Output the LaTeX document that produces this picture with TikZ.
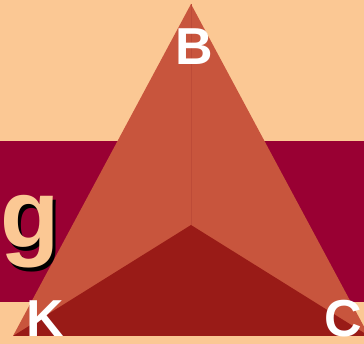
\documentclass[tikz,border=0pt]{standalone}
\usepackage{fontspec}
\setmainfont{Liberation Sans}
\definecolor{peach}{HTML}{FBC894}
\definecolor{crimson}{HTML}{990033}
\definecolor{face}{HTML}{C8553D}
\definecolor{darkface}{HTML}{991B17}
\definecolor{ridge}{HTML}{BD4B38}
\tikzset{
  lbl/.style={text=white,font=\fontsize{52}{52}\selectfont\bfseries,inner sep=0pt,anchor=base},
  bigg/.style={font=\fontsize{97}{97}\selectfont\bfseries,inner sep=0pt,anchor=base west}
}
\begin{document}
\begin{tikzpicture}[x=1pt,y=-1pt]
\useasboundingbox (0,0) rectangle (364,344);
\fill[peach] (0,0) rectangle (364,344);
\fill[crimson] (0,141) rectangle (364,302);
\coordinate (top) at (191,4);
\coordinate (left) at (13,336);
\coordinate (right) at (369,336);
\coordinate (mid) at (191,225);
\fill[face] (top) -- (right) -- (left) -- cycle;
\fill[darkface] (mid) -- (right) -- (left) -- cycle;
\draw[ridge,line width=0.8pt] (top) -- (mid);
\node[lbl] (B) at (194.5,65) {B};
\node[lbl] (K) at (45,337) {K};
\node[lbl] (C) at (343,337) {C};
\node[bigg,text=black] (gs) at (3.5,251.5) {g};
\node[bigg,text=peach] (g) at (0,248) {g};
\end{tikzpicture}
\end{document}
